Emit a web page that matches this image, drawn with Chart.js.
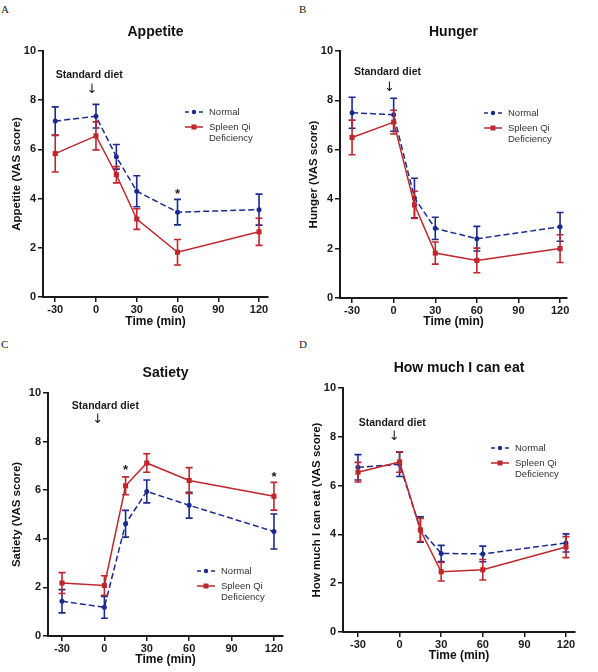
<!DOCTYPE html>
<html>
<head>
<meta charset="utf-8">
<script src="https://cdn.jsdelivr.net/npm/chart.js@4.4.1/dist/chart.umd.min.js"></script>
<style>
  body { margin: 0; background: #fff; }
  #page { position: relative; width: 598px; height: 672px; overflow: hidden; background: #fff; }
  canvas { position: absolute; }
  .tag { position: absolute; font-family: 'Liberation Serif', 'DejaVu Serif', serif; font-size: 11px; color: #222; line-height: 1; }
</style>
</head>
<body>
<div id="page">
  <div class="tag" style="left:1px;top:4px">A</div>
  <div class="tag" style="left:299px;top:4px">B</div>
  <div class="tag" style="left:1px;top:339px">C</div>
  <div class="tag" style="left:299px;top:339px">D</div>
  <canvas id="chartA" width="298" height="330" style="left:0;top:0"></canvas>
  <canvas id="chartB" width="300" height="330" style="left:298px;top:0"></canvas>
  <canvas id="chartC" width="298" height="342" style="left:0;top:330px"></canvas>
  <canvas id="chartD" width="300" height="342" style="left:298px;top:330px"></canvas>
</div>
<script>
const times = [-30, 0, 15, 30, 60, 120];
const xTicks = [-30, 0, 30, 60, 90, 120];
const yTicks = [0, 2, 4, 6, 8, 10];

// A - Appetite
const appetiteNormal = [7.15, 7.35, 5.70, 4.30, 3.45, 3.55];
const appetiteNormalErr = [0.58, 0.48, 0.50, 0.63, 0.52, 0.63];
const appetiteSqd = [5.83, 6.55, 4.97, 3.17, 1.82, 2.65];
const appetiteSqdErr = [0.75, 0.57, 0.33, 0.42, 0.52, 0.55];
const appetiteStars = [[60, 4.3]];

// B - Hunger
const hungerNormal = [7.50, 7.42, 4.05, 2.82, 2.40, 2.88];
const hungerNormalErr = [0.63, 0.67, 0.80, 0.45, 0.50, 0.58];
const hungerSqd = [6.50, 7.12, 3.77, 1.82, 1.52, 2.00];
const hungerSqdErr = [0.70, 0.48, 0.55, 0.45, 0.50, 0.56];
const hungerStars = [];

// C - Satiety
const satietyNormal = [1.43, 1.18, 4.62, 5.95, 5.38, 4.30];
const satietyNormalErr = [0.48, 0.45, 0.55, 0.47, 0.53, 0.72];
const satietySqd = [2.18, 2.08, 6.18, 7.12, 6.40, 5.75];
const satietySqdErr = [0.43, 0.40, 0.37, 0.38, 0.53, 0.57];
const satietyStars = [[15, 6.95], [120, 6.65]];

// D - How much I can eat
const eatNormal = [6.75, 6.87, 4.20, 3.22, 3.20, 3.65];
const eatNormalErr = [0.52, 0.50, 0.52, 0.33, 0.32, 0.37];
const eatSqd = [6.55, 6.97, 4.18, 2.47, 2.55, 3.48];
const eatSqdErr = [0.40, 0.42, 0.47, 0.38, 0.42, 0.43];
const eatStars = [];

const BLUE = '#1c2a8e';
const RED = '#c0262d';
const INK = '#1a1a1a';

Chart.defaults.font.family = "'Liberation Sans', Arial, sans-serif";
Chart.defaults.color = INK;

// error bars drawn right after each dataset
const errorBars = {
    id: 'errorBars',
    afterDatasetDraw(chart, args) {
        const ds = chart.data.datasets[args.index];
        const { ctx, scales: { x, y } } = chart;
        ctx.save();
        ctx.strokeStyle = ds.borderColor;
        ctx.lineWidth = 1.6;
        ctx.setLineDash([]);
        ds.data.forEach((pt, i) => {
            const e = ds.errors[i];
            const px = x.getPixelForValue(pt.x);
            const top = y.getPixelForValue(pt.y + e);
            const bot = y.getPixelForValue(pt.y - e);
            ctx.beginPath();
            ctx.moveTo(px, top); ctx.lineTo(px, bot);
            ctx.moveTo(px - 3.5, top); ctx.lineTo(px + 3.5, top);
            ctx.moveTo(px - 3.5, bot); ctx.lineTo(px + 3.5, bot);
            ctx.stroke();
        });
        ctx.restore();
    }
};

// stars, "Standard diet" marker and the in-plot legend
const panelNotes = {
    id: 'panelNotes',
    afterDraw(chart, args, opts) {
        const { ctx, chartArea, scales: { x, y } } = chart;
        ctx.save();
        ctx.fillStyle = INK;
        ctx.textAlign = 'center';
        ctx.textBaseline = 'middle';

        ctx.font = "bold 10.5px 'Liberation Sans', Arial, sans-serif";
        ctx.fillText('Standard diet', x.getPixelForValue(opts.diet.tx), y.getPixelForValue(opts.diet.ty));
        ctx.font = "13px 'DejaVu Sans', sans-serif";
        ctx.fillText('\u2193', x.getPixelForValue(opts.diet.ax), y.getPixelForValue(opts.diet.ay));

        ctx.font = "bold 13px 'Liberation Sans', Arial, sans-serif";
        opts.stars.forEach(s => {
            ctx.fillText('*', x.getPixelForValue(s[0]), y.getPixelForValue(s[1]) + 3);
        });

        const lx = chartArea.left + opts.legend.dx;
        const ly = chartArea.top + opts.legend.dy;
        ctx.lineWidth = 1.5;
        ctx.strokeStyle = BLUE;
        ctx.setLineDash([4, 3]);
        ctx.beginPath(); ctx.moveTo(lx, ly); ctx.lineTo(lx + 18, ly); ctx.stroke();
        ctx.setLineDash([]);
        ctx.fillStyle = BLUE;
        ctx.beginPath(); ctx.arc(lx + 9, ly, 2.2, 0, Math.PI * 2); ctx.fill();

        ctx.strokeStyle = RED;
        ctx.beginPath(); ctx.moveTo(lx, ly + 15); ctx.lineTo(lx + 18, ly + 15); ctx.stroke();
        ctx.fillStyle = RED;
        ctx.fillRect(lx + 6.5, ly + 12.5, 5, 5);

        ctx.fillStyle = '#333';
        ctx.textAlign = 'left';
        ctx.font = "9.5px 'Liberation Sans', Arial, sans-serif";
        ctx.fillText('Normal', lx + 24, ly);
        ctx.fillText('Spleen Qi', lx + 24, ly + 15);
        ctx.fillText('Deficiency', lx + 24, ly + 26);
        ctx.restore();
    }
};

const panels = [
    { id: 'chartA', title: 'Appetite', yTitle: 'Appetite (VAS score)',
      normal: appetiteNormal, normalErr: appetiteNormalErr, sqd: appetiteSqd, sqdErr: appetiteSqdErr, stars: appetiteStars,
      area: { left: 43, right: 268, top: 51, bottom: 297 }, xMin: -39, xMax: 126.6,
      titleY: 32, xTitleY: 322, yTitleX: 17,
      diet: { tx: -5, ty: 9.02, ax: -3, ay: 8.45 }, legend: { dx: 142, dy: 61 } },
    { id: 'chartB', title: 'Hunger', yTitle: 'Hunger (VAS score)',
      normal: hungerNormal, normalErr: hungerNormalErr, sqd: hungerSqd, sqdErr: hungerSqdErr, stars: hungerStars,
      area: { left: 42, right: 269, top: 51, bottom: 298 }, xMin: -38.7, xMax: 125,
      titleY: 32, xTitleY: 322, yTitleX: 16,
      diet: { tx: -4.5, ty: 9.16, ax: -3, ay: 8.53 }, legend: { dx: 144, dy: 62 } },
    { id: 'chartC', title: 'Satiety', yTitle: 'Satiety (VAS score)',
      normal: satietyNormal, normalErr: satietyNormalErr, sqd: satietySqd, sqdErr: satietySqdErr, stars: satietyStars,
      area: { left: 48, right: 283, top: 63, bottom: 306 }, xMin: -39.9, xMax: 126.4,
      titleY: 43, xTitleY: 330, yTitleX: 17,
      diet: { tx: 0.7, ty: 9.45, ax: -4.7, ay: 8.9 }, legend: { dx: 149, dy: 178 } },
    { id: 'chartD', title: 'How much I can eat', yTitle: 'How much I can eat (VAS score)',
      normal: eatNormal, normalErr: eatNormalErr, sqd: eatSqd, sqdErr: eatSqdErr, stars: eatStars,
      area: { left: 45, right: 277, top: 58, bottom: 302 }, xMin: -40.8, xMax: 126.5,
      titleY: 38, xTitleY: 326, yTitleX: 19,
      diet: { tx: -5.3, ty: 8.58, ax: -3.8, ay: 8.02 }, legend: { dx: 148, dy: 60 } }
];

function makeChart(p) {
    const canvas = document.getElementById(p.id);
    const W = canvas.width, H = canvas.height;
    const titleLH = 14 * 1.2;
    const axisStyle = {
        border: { color: INK, width: 2 },
        grid: { drawOnChartArea: false, drawTicks: true, tickLength: 5, color: INK, lineWidth: 1.5 }
    };

    return new Chart(canvas, {
        type: 'line',
        data: {
            datasets: [{
                label: 'Normal',
                data: times.map((t, i) => ({ x: t, y: p.normal[i] })),
                errors: p.normalErr,
                borderColor: BLUE,
                backgroundColor: BLUE,
                borderDash: [6, 3],
                borderWidth: 1.5,
                pointStyle: 'circle',
                pointRadius: 2.5,
                pointBorderWidth: 0,
                order: 1
            }, {
                label: 'Spleen Qi Deficiency',
                data: times.map((t, i) => ({ x: t, y: p.sqd[i] })),
                errors: p.sqdErr,
                borderColor: RED,
                backgroundColor: RED,
                borderWidth: 1.5,
                pointStyle: 'rect',
                pointRadius: 3.6,
                pointBorderWidth: 0,
                order: 0
            }]
        },
        options: {
            responsive: false,
            animation: false,
            layout: { padding: { left: 0, right: W - p.area.right, top: 0, bottom: 0 } },
            plugins: {
                legend: { display: false },
                tooltip: { enabled: false },
                title: {
                    display: true,
                    text: p.title,
                    fullSize: false,
                    color: '#111',
                    font: { size: 14, weight: 'bold' },
                    padding: { top: p.titleY - titleLH / 2, bottom: p.area.top - p.titleY - titleLH / 2 }
                },
                panelNotes: { stars: p.stars, diet: p.diet, legend: p.legend }
            },
            scales: {
                x: {
                    type: 'linear',
                    min: p.xMin,
                    max: p.xMax,
                    afterFit: s => { s.height = H - p.area.bottom; },
                    afterBuildTicks: s => { s.ticks = xTicks.map(v => ({ value: v })); },
                    ...axisStyle,
                    ticks: { padding: 1, maxRotation: 0, color: INK, font: { size: 11, weight: 'bold' } },
                    title: {
                        display: true, text: 'Time (min)', color: '#111',
                        font: { size: 12, weight: 'bold' },
                        padding: { top: 0, bottom: Math.max(0, H - p.xTitleY - 7.2) }
                    }
                },
                y: {
                    min: 0,
                    max: 10,
                    afterFit: s => { s.width = p.area.left; },
                    afterBuildTicks: s => { s.ticks = yTicks.map(v => ({ value: v })); },
                    ...axisStyle,
                    ticks: { padding: 2, color: INK, font: { size: 11, weight: 'bold' } },
                    title: {
                        display: true, text: p.yTitle, color: '#111',
                        font: { size: 11.5, weight: 'bold' },
                        padding: { top: p.yTitleX - 6.9, bottom: 0 }
                    }
                }
            }
        },
        plugins: [errorBars, panelNotes]
    });
}

panels.forEach(makeChart);
</script>
</body>
</html>
